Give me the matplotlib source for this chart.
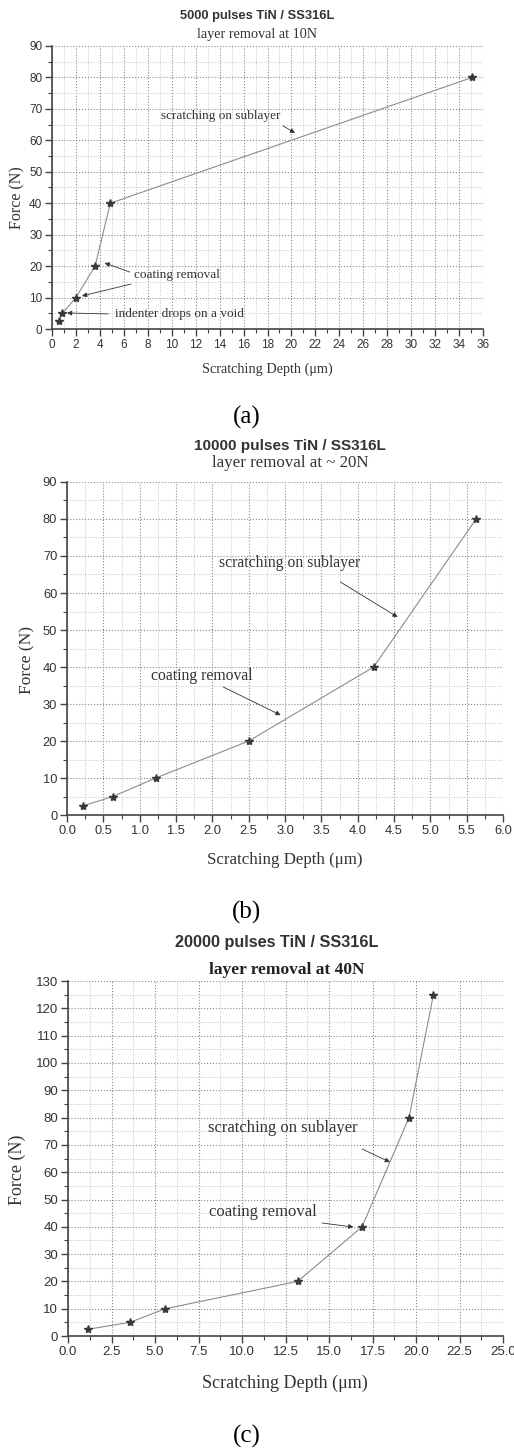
import numpy as np
import matplotlib.pyplot as plt
from matplotlib.ticker import MultipleLocator

# data
depth_a = [0.58, 0.86, 2.0, 3.6, 4.87, 35.1]
force_a = [2.5, 5, 10, 20, 40, 80]

depth_b = [0.22, 0.63, 1.22, 2.50, 4.22, 5.63]
force_b = [2.5, 5, 10, 20, 40, 80]

depth_c = [1.17, 3.56, 5.59, 13.2, 16.9, 19.6, 21.0]
force_c = [2.5, 5, 10, 20, 40, 80, 125]

SANS = 'Liberation Sans'
SERIF = 'Liberation Serif'
GRAY = '#333333'


def style_axes(ax, xmax, xmaj, xmin, ymax, ymaj, ymin, fs, fmt=None):
    ax.set_xlim(0, xmax)
    ax.set_ylim(0, ymax)
    ax.xaxis.set_major_locator(MultipleLocator(xmaj))
    ax.xaxis.set_minor_locator(MultipleLocator(xmin))
    ax.yaxis.set_major_locator(MultipleLocator(ymaj))
    ax.yaxis.set_minor_locator(MultipleLocator(ymin))
    if fmt:
        ax.xaxis.set_major_formatter(fmt)
    for s in ['top', 'right']:
        ax.spines[s].set_visible(False)
    for s in ['left', 'bottom']:
        ax.spines[s].set_color('#444444')
        ax.spines[s].set_linewidth(1.2)
    ax.tick_params(which='major', direction='out', length=5, width=1.0,
                   color='#444444', labelsize=fs, labelcolor=GRAY, pad=2)
    ax.tick_params(which='minor', direction='out', length=3, width=0.8,
                   color='#444444')
    for lab in ax.get_xticklabels() + ax.get_yticklabels():
        lab.set_family(SANS)
    ax.grid(which='major', linestyle=':', color='#8a8a8a', linewidth=0.8)
    ax.grid(which='minor', linestyle=':', color='#c4c4c4', linewidth=0.7)
    ax.set_axisbelow(True)


def plot_series(ax, x, y):
    ax.plot(x, y, color='#8c8c8c', linewidth=0.8, zorder=3)
    ax.plot(x, y, linestyle='none', marker='*', markersize=6,
            color='#3a3a3a', zorder=4, clip_on=False)


def arrow(ax, tail, head):
    ax.annotate('', xy=head, xytext=tail,
                arrowprops=dict(arrowstyle='-|>', color='#333333', lw=0.6,
                                mutation_scale=7, shrinkA=0, shrinkB=0))


def note(ax, text, xytext, tail, head, fs):
    ax.text(xytext[0], xytext[1], text, family=SERIF, fontsize=fs,
            color=GRAY, ha='center', va='center')
    arrow(ax, tail, head)


def labels(ax, xl, yl, fx, fy):
    ax.set_xlabel('Scratching Depth (\u03bcm)', family=SERIF, fontsize=fx,
                  color=GRAY)
    ax.xaxis.set_label_coords(*xl)
    ax.xaxis.label.set_va('center')
    ax.set_ylabel('Force (N)', family=SERIF, fontsize=fy, color=GRAY)
    ax.yaxis.set_label_coords(*yl)
    ax.yaxis.label.set_va('center')


fmt1 = lambda v, p: f'{v:.1f}'

fig = plt.figure(figsize=(5.14, 14.5), dpi=100)

# (a)
ax1 = fig.add_axes([0.1012, 0.7731, 0.8385, 0.1952])
plot_series(ax1, depth_a, force_a)
style_axes(ax1, 36, 2, 1, 90, 10, 5, 8.5)
labels(ax1, (0.499, -0.141), (-0.081, 0.463), 10.3, 11.5)
note(ax1, 'scratching on sublayer', (14.1, 67.7), (19.3, 64.6), (20.3, 62.3), 9.5)
note(ax1, 'coating removal', (10.4, 17.2), (6.5, 18.1), (4.4, 21.0), 9.5)
arrow(ax1, (6.6, 14.3), (2.5, 10.5))
ax1.text(5.3, 4.8, 'indenter drops on a void', family=SERIF, fontsize=9.5,
         color=GRAY, ha='left', va='center')
arrow(ax1, (4.7, 4.8), (1.25, 5.1))
fig.text(0.5, 0.989, '5000 pulses TiN / SS316L', family=SANS,
         weight='bold', fontsize=9.3, color=GRAY, ha='center', va='center')
fig.text(0.5, 0.9759, 'layer removal at 10N', family=SERIF, fontsize=10.3,
         color=GRAY, ha='center', va='center')
fig.text(0.48, 0.7124, '(a)', family=SERIF, fontsize=18, color='black',
         ha='center', va='center')

# (b)
ax2 = fig.add_axes([0.1304, 0.4379, 0.8482, 0.2297])
plot_series(ax2, depth_b, force_b)
style_axes(ax2, 6, 0.5, 0.25, 90, 10, 5, 9.3, fmt1)
labels(ax2, (0.5, -0.135), (-0.092, 0.465), 12.2, 12.5)
note(ax2, 'scratching on sublayer', (3.07, 68.1), (3.76, 63.0), (4.55, 53.5), 11.3)
note(ax2, 'coating removal', (1.86, 37.6), (2.15, 34.6), (2.94, 27.0), 11.3)
fig.text(0.564, 0.6922, '10000 pulses TiN / SS316L', family=SANS,
         weight='bold', fontsize=11, color=GRAY, ha='center', va='center')
fig.text(0.564, 0.6805, 'layer removal at ~ 20N', family=SERIF,
         fontsize=12.2, color=GRAY, ha='center', va='center')
fig.text(0.48, 0.371, '(b)', family=SERIF, fontsize=18, color='black',
         ha='center', va='center')

# (c)
ax3 = fig.add_axes([0.1323, 0.0786, 0.8463, 0.2448])
plot_series(ax3, depth_c, force_c)
style_axes(ax3, 25, 2.5, 1.25, 130, 10, 5, 9.5, fmt1)
labels(ax3, (0.499, -0.132), (-0.117, 0.468), 13, 13)
note(ax3, 'scratching on sublayer', (12.36, 76.2), (16.9, 68.5), (18.5, 63.7), 12)
note(ax3, 'coating removal', (11.2, 45.4), (14.6, 41.4), (16.4, 39.9), 12)
fig.text(0.539, 0.3497, '20000 pulses TiN / SS316L', family=SANS,
         weight='bold', fontsize=11.7, color=GRAY, ha='center', va='center')
fig.text(0.558, 0.331, 'layer removal at 40N', family=SERIF, weight='bold',
         fontsize=12.5, color='#222222', ha='center', va='center')
fig.text(0.48, 0.009, '(c)', family=SERIF, fontsize=18, color='black',
         ha='center', va='center')

fig.savefig('out.png', dpi=100)
